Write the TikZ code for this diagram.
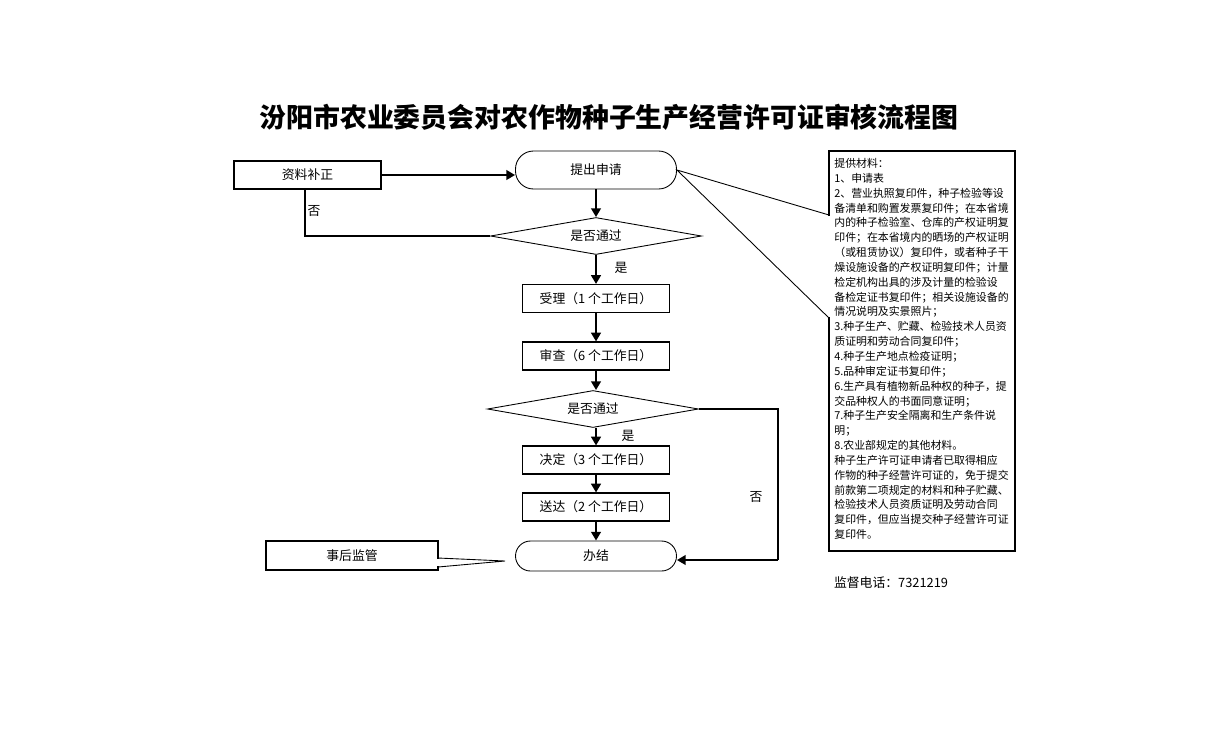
\documentclass[tikz,border=0pt]{standalone}
\usepackage{fontspec}
\setmainfont{Noto Sans CJK SC}
\usetikzlibrary{shapes.geometric,arrows.meta}
\begin{document}
\begin{tikzpicture}[x=0.02cm,y=-0.02cm,
  box/.style={draw, line width=0.6pt, minimum width=147*0.02cm, minimum height=28*0.02cm, inner sep=0pt, font=\fontsize{7.3}{8}\selectfont},
  term/.style={draw, line width=0.5pt, rounded corners=0.36cm, minimum width=161*0.02cm, minimum height=38*0.02cm, inner sep=0pt, font=\fontsize{7.3}{8}\selectfont},
  dec/.style={draw, diamond, line width=0.5pt, aspect=5.7, minimum width=211*0.02cm, minimum height=37*0.02cm, inner sep=0pt, font=\fontsize{7.3}{8}\selectfont},
  lbl/.style={inner sep=0pt, font=\fontsize{7.3}{8}\selectfont},
  thin/.style={line width=0.6pt},
  flow/.style={line width=1.6pt, -{Triangle[length=5pt,width=5.5pt]}},
]
\useasboundingbox (0,0) rectangle (1223,741);

\node[inner sep=0pt, font=\fontsize{15.3}{18}\selectfont\bfseries] (title) at (609,117) {汾阳市农业委员会对农作物种子生产经营许可证审核流程图};

\node[box] (fix) at (307.5,175) {资料补正};
\node[term] (apply) at (596,170) {提出申请};
\node[dec] (d1) at (596,236) {是否通过};
\node[box] (accept) at (596,298.5) {受理（1 个工作日）};
\node[box] (review) at (596,356) {审查（6 个工作日）};
\node[dec] (d2) at (593,409) {是否通过};
\node[box] (decide) at (596,460) {决定（3 个工作日）};
\node[box] (deliver) at (596,507) {送达（2 个工作日）};
\node[term, minimum height=30*0.02cm, rounded corners=0.3cm] (done) at (596,556) {办结};
\node[box, minimum width=172*0.02cm, minimum height=29*0.02cm] (super) at (352,555.5) {事后监管};

% flow arrows
\draw[flow] (fix.east) -- (apply.west |- fix.east);
\draw[flow] (apply.south) -- (d1.north);
\draw[flow] (d1.south) -- (accept.north);
\draw[flow] (accept.south) -- (review.north);
\draw[flow] (review.south) -- (d2.north -| review.south);
\draw[flow] (d2.south -| decide.north) -- (decide.north);
\draw[flow] (decide.south) -- (deliver.north);
\draw[flow] (deliver.south) -- (done.north);

% loops
\coordinate (l1) at (305,236);
\draw[thin] (d1.west) -- (l1) -- (fix.south -| l1);
\coordinate (r1) at (778,409);
\coordinate (r2) at (778,560);
\draw[thin] (d2.east) -- (r1) -- (r2);
\draw[flow] (r2) -- (done.east |- r2);

\node[lbl] (no1) at (314,211) {否};
\node[lbl] (yes1) at (621,268) {是};
\node[lbl] (yes2) at (628,436) {是};
\node[lbl] (no2) at (756,497) {否};

% materials callout
\node[draw, line width=0.6pt, minimum width=186*0.02cm, minimum height=400*0.02cm, inner sep=0pt] (mbox) at (922,351) {};
\node[anchor=north west, inner sep=0pt, align=left, font=\fontsize{6.2}{8.45}\selectfont] (mtext) at (834,158) {提供材料：\\
1、申请表\\
2、营业执照复印件，种子检验等设\\
备清单和购置发票复印件；在本省境\\
内的种子检验室、仓库的产权证明复\\
印件；在本省境内的晒场的产权证明\\
（或租赁协议）复印件，或者种子干\\
燥设施设备的产权证明复印件；计量\\
检定机构出具的涉及计量的检验设\\
备检定证书复印件；相关设施设备的\\
情况说明及实景照片；\\
3.种子生产、贮藏、检验技术人员资\\
质证明和劳动合同复印件；\\
4.种子生产地点检疫证明；\\
5.品种审定证书复印件；\\
6.生产具有植物新品种权的种子，提\\
交品种权人的书面同意证明；\\
7.种子生产安全隔离和生产条件说\\
明；\\
8.农业部规定的其他材料。\\
种子生产许可证申请者已取得相应\\
作物的种子经营许可证的，免于提交\\
前款第二项规定的材料和种子贮藏、\\
检验技术人员资质证明及劳动合同\\
复印件，但应当提交种子经营许可证\\
复印件。};
\coordinate (w1) at (829,215);
\coordinate (w2) at (829,318);
\draw[white, line width=1.2pt, shorten >=0.7pt, shorten <=0.7pt] (w1) -- (w2);
\draw[line width=0.5pt] (w1) -- (apply.east) -- (w2);

% supervision callout
\coordinate (s1) at (438,558);
\coordinate (s2) at (438,567);
\coordinate (stip) at (505,561);
\draw[white, line width=1.2pt, shorten >=0.7pt, shorten <=0.7pt] (s1) -- (s2);
\draw[line width=0.5pt] (s1) -- (stip) -- (s2);

\node[lbl] (tel) at (891,583) {监督电话：7321219};
\end{tikzpicture}
\end{document}
